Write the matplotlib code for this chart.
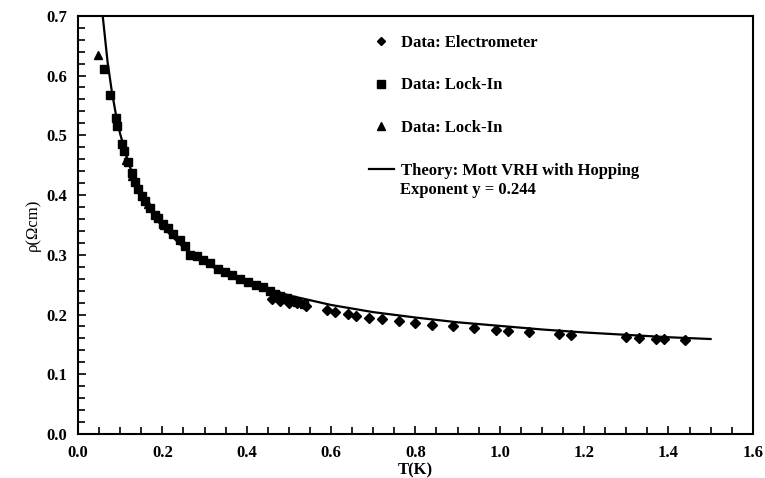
import matplotlib
matplotlib.use("Agg")
import matplotlib.pyplot as plt
from matplotlib.ticker import MultipleLocator

# Data: Electrometer (diamonds)
elec_T = [0.46, 0.48, 0.50, 0.52, 0.54, 0.59, 0.61, 0.64, 0.66, 0.69, 0.72, 0.76,
          0.80, 0.84, 0.89, 0.94, 0.99, 1.02, 1.07, 1.14, 1.17, 1.30, 1.33, 1.37,
          1.39, 1.44]
elec_rho = [0.226, 0.222, 0.220, 0.219, 0.214, 0.207, 0.204, 0.201, 0.198, 0.195,
            0.192, 0.189, 0.186, 0.183, 0.180, 0.177, 0.174, 0.173, 0.170, 0.168,
            0.166, 0.162, 0.160, 0.159, 0.159, 0.157]

# Data: Lock-In (squares)
lock_T = [0.062, 0.076, 0.089, 0.093, 0.105, 0.110, 0.118, 0.127, 0.135, 0.143,
          0.151, 0.159, 0.171, 0.183, 0.190, 0.202, 0.214, 0.226, 0.242, 0.254,
          0.265, 0.281, 0.297, 0.313, 0.333, 0.348, 0.364, 0.384, 0.404, 0.423,
          0.439, 0.455, 0.467, 0.479, 0.495, 0.507, 0.520, 0.535]
lock_rho = [0.611, 0.567, 0.529, 0.515, 0.486, 0.474, 0.455, 0.437, 0.422, 0.410,
            0.399, 0.390, 0.378, 0.367, 0.361, 0.352, 0.344, 0.335, 0.324, 0.315,
            0.300, 0.298, 0.292, 0.286, 0.277, 0.272, 0.266, 0.260, 0.254, 0.250,
            0.246, 0.240, 0.234, 0.231, 0.228, 0.225, 0.221, 0.218]

# Data: Lock-In (triangles)
lock2_T = [0.047, 0.114, 0.128, 0.165, 0.205]
lock2_rho = [0.634, 0.459, 0.432, 0.385, 0.350]

# Theory: Mott VRH curve
theory_T = [0.0585, 0.07, 0.08, 0.09, 0.10, 0.12, 0.14, 0.16, 0.18, 0.20, 0.25,
            0.30, 0.35, 0.40, 0.50, 0.60, 0.70, 0.80, 0.90, 1.00, 1.10, 1.20,
            1.30, 1.40, 1.50]
theory_rho = [0.700, 0.623, 0.574, 0.534, 0.502, 0.453, 0.416, 0.388, 0.365,
              0.347, 0.312, 0.287, 0.268, 0.254, 0.232, 0.216, 0.204, 0.195,
              0.187, 0.181, 0.175, 0.170, 0.166, 0.162, 0.159]

plt.rcParams['font.family'] = ['Liberation Serif', 'DejaVu Serif']

fig = plt.figure(figsize=(7.65, 4.78), dpi=100)
ax = fig.add_axes([0.102, 0.092, 0.882, 0.875])

ax.plot(elec_T, elec_rho, 'D', color='black', markersize=5, label='Data: Electrometer')
ax.plot(lock_T, lock_rho, 's', color='black', markersize=6, label='Data: Lock-In')
ax.plot(lock2_T, lock2_rho, '^', color='black', markersize=6, label='Data: Lock-In')
ax.plot(theory_T, theory_rho, '-', color='black', linewidth=1.6,
        label='Theory: Mott VRH with Hopping')

ax.set_xlim(0, 1.6)
ax.set_ylim(0, 0.7)
ax.xaxis.set_major_locator(MultipleLocator(0.2))
ax.xaxis.set_minor_locator(MultipleLocator(0.05))
ax.yaxis.set_major_locator(MultipleLocator(0.1))
ax.yaxis.set_minor_locator(MultipleLocator(0.02))
ax.xaxis.set_major_formatter(lambda v, p: f"{v:.1f}")
ax.yaxis.set_major_formatter(lambda v, p: f"{v:.1f}")
ax.tick_params(which='both', direction='in', width=1.2)
ax.tick_params(which='major', length=6, labelsize=12, pad=8)
ax.tick_params(which='minor', length=5)
for lab in ax.get_xticklabels() + ax.get_yticklabels():
    lab.set_fontweight('bold')
for s in ax.spines.values():
    s.set_linewidth(1.5)

ax.set_xlabel('T(K)', fontsize=12, fontweight='bold', labelpad=1)
ax.set_ylabel('ρ(Ωcm)', fontsize=12, labelpad=4)

leg = ax.legend(loc='upper left', bbox_to_anchor=(0.431, 0.9545), frameon=False,
                prop={'weight': 'bold', 'size': 12}, labelspacing=1.6,
                handlelength=1.5, handletextpad=0.4, borderpad=0, borderaxespad=0,
                markerscale=0.9)
ax.text(0.477, 0.584, 'Exponent y = 0.244', transform=ax.transAxes,
        fontsize=12, fontweight='bold', va='center', ha='left')

fig.savefig('out.png', dpi=100)
